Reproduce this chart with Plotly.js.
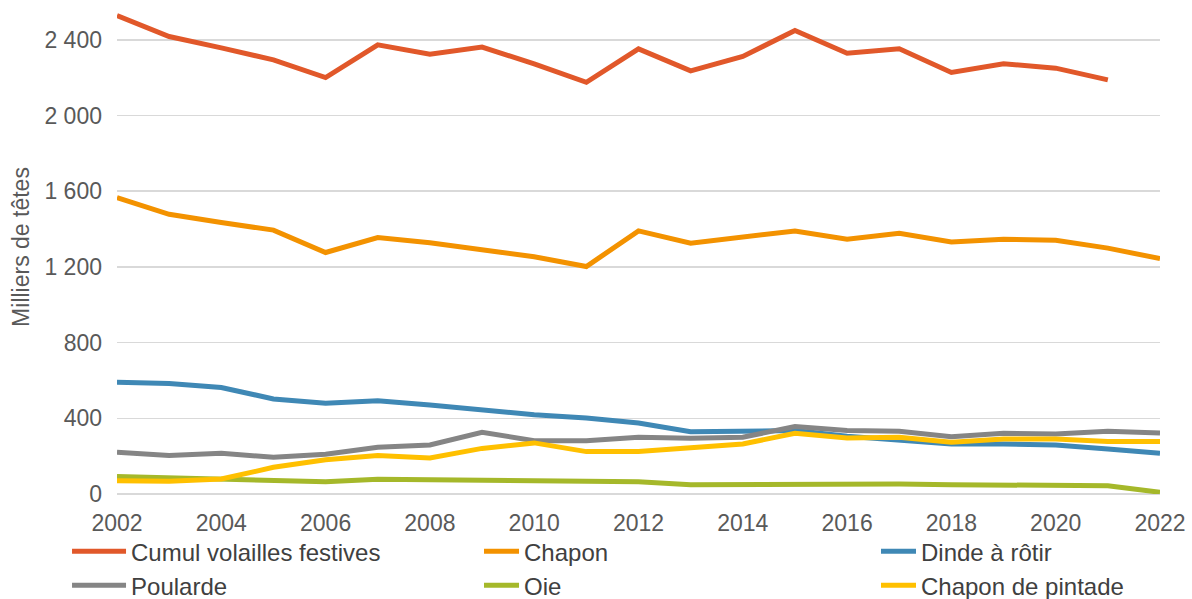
<!DOCTYPE html>
<html><head><meta charset="utf-8">
<script src="https://cdn.plot.ly/plotly-3.0.1.min.js"></script>
<style>html,body{margin:0;padding:0;background:#fff}#chart{width:1192px;height:599px}</style>
</head><body><div id="chart"></div>
<script>
const years = [2002,2003,2004,2005,2006,2007,2008,2009,2010,2011,2012,2013,2014,2015,2016,2017,2018,2019,2020,2021,2022];
const cumul = [2528,2417,2357,2294,2200,2373,2324,2361,2273,2175,2352,2236,2312,2449,2329,2352,2227,2273,2250,2188,null];
const chapon = [1566,1478,1434,1394,1276,1355,1328,1293,1253,1202,1390,1325,1360,1390,1346,1378,1332,1346,1341,1299,1244];
const dinde = [590,584,563,502,479,493,470,445,419,401,375,329,330,335,305,287,264,264,259,238,215];
const poularde = [220,203,215,194,210,247,259,326,282,282,300,294,300,356,335,331,303,321,317,331,322];
const oie = [92,85,79,76,65,78,76,70,70,69,65,49,51,55,53,53,49,46,44,44,9];
const pintade = [70,67,79,141,181,203,190,241,270,224,224,243,264,321,296,300,273,291,291,277,277];

const names = ["Cumul volailles festives","Chapon","Dinde à rôtir","Poularde","Oie","Chapon de pintade"];
const series = [cumul, chapon, dinde, poularde, oie, pintade];
const colors = ["#E1582A","#F39200","#3F88B5","#858585","#A5B82A","#FFC000"];
const legendIds = ["legend","legend2","legend3","legend","legend2","legend3"];

const traces = series.map((s,i)=>({
  x: years, y: s, name: names[i], type: 'scatter', mode: 'lines',
  line: {color: colors[i], width: 5},
  legend: legendIds[i],
  connectgaps: false
}));

const legFont = {family: 'Liberation Sans, Arial, sans-serif', size: 24, color: '#404040'};
const legBase = {orientation: 'v', xanchor: 'left', y: -0.071, yanchor: 'top', font: legFont, traceorder: 'normal', bgcolor: 'rgba(0,0,0,0)'};

const layout = {
  width: 1192, height: 599,
  margin: {l:117, r:32, t:0, b:105, autoexpand: false},
  paper_bgcolor: '#fff', plot_bgcolor: '#fff',
  separators: ', ',
  font: {family: 'Liberation Sans, Arial, sans-serif', size: 23, color: '#595959'},
  showlegend: true,
  xaxis: {
    range: [2002, 2022], tickvals: [2002,2004,2006,2008,2010,2012,2014,2016,2018,2020,2022],
    showgrid: false, zeroline: false, showline: false, ticks: '',
    ticklabelstandoff: 13,
    tickfont: {size: 23, color: '#595959'}
  },
  yaxis: {
    range: [0, 2610], tickvals: [0,400,800,1200,1600,2000,2400],
    separatethousands: true, tickformat: ',d',
    showgrid: true, gridcolor: '#d9d9d9', gridwidth: 1.5,
    zeroline: true, zerolinecolor: '#d9d9d9', zerolinewidth: 1.5,
    showline: false, ticks: '',
    ticklabelstandoff: 14,
    tickfont: {size: 23, color: '#595959'},
    title: {text: 'Milliers de têtes', font: {size: 23, color: '#595959'}, standoff: 8}
  },
  legend: Object.assign({}, legBase, {x: -0.0249}),
  legend2: Object.assign({}, legBase, {x: 0.3519}),
  legend3: Object.assign({}, legBase, {x: 0.7325})
};

function stretchLegendLines(){
  document.querySelectorAll('.legend .scrollbox').forEach(s=>s.removeAttribute('clip-path'));
  document.querySelectorAll('.legendlines path').forEach(p=>{
    p.setAttribute('d','M-19,0h54');
  });
}
const gd = document.getElementById('chart');
Plotly.newPlot(gd, traces, layout, {displayModeBar: false, staticPlot: true}).then(()=>{
  stretchLegendLines();
  gd.on('plotly_afterplot', stretchLegendLines);
  setTimeout(stretchLegendLines, 50);
});
</script>
</body></html>
